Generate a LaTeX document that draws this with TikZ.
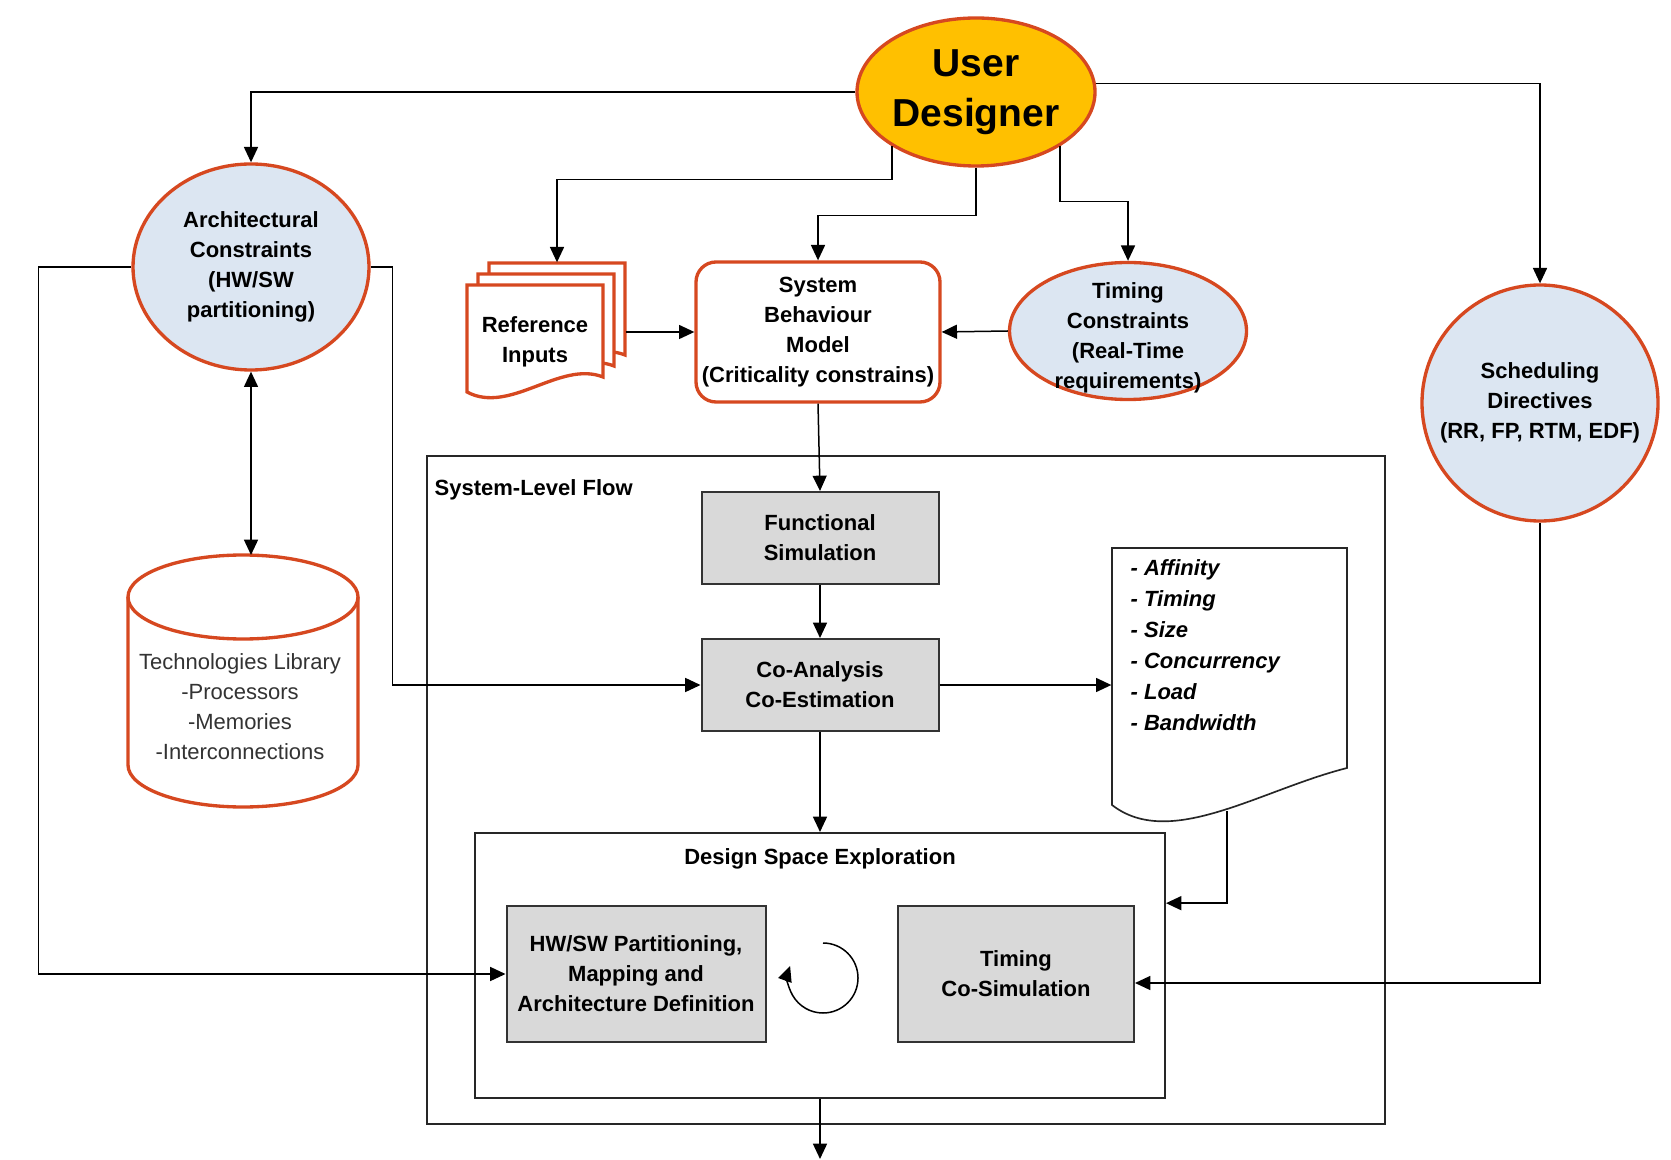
\documentclass[tikz,border=0pt]{standalone}
\usepackage{fontspec}
\setmainfont{Liberation Sans}
\usetikzlibrary{arrows.meta,shapes.geometric}

\definecolor{udorange}{RGB}{255,192,0}
\definecolor{edgered}{RGB}{214,72,32}
\definecolor{paleblue}{RGB}{220,230,242}
\definecolor{boxgray}{RGB}{217,217,217}

\newcommand{\dfont}{\fontsize{6.6}{9}\selectfont}

\begin{document}
\begin{tikzpicture}[x=0.3pt, y=-0.3pt,
        font=\dfont\bfseries,
        arr/.style={line width=0.45pt, -{Triangle[length=4.6pt,width=4.2pt]}},
        dblarr/.style={line width=0.45pt, {Triangle[length=4.6pt,width=4.2pt]}-{Triangle[length=4.6pt,width=4.2pt]}},
        redell/.style={ellipse, draw=edgered, line width=1pt, fill=paleblue, inner sep=0pt, align=center},
        graybox/.style={rectangle, draw=black!80, line width=0.6pt, fill=boxgray, inner sep=1pt, align=center},
        frame/.style={rectangle, draw=black!85, line width=0.6pt, inner sep=0pt},
        txt/.style={inner sep=0pt, align=center}]
    \useasboundingbox (0,0) rectangle (1671,1160);

    % top row
    \node[redell, fill=udorange, minimum width=71.4pt, minimum height=44.4pt,
        font=\fontsize{11.7}{15}\selectfont\bfseries] (UD) at (976,92) {User\\Designer};
    \node[redell, minimum width=70.8pt, minimum height=61.8pt] (arch) at (251,267)
        {Architectural\\Constraints\\(HW/SW\\partitioning)};
    \node[redell, minimum width=71.1pt, minimum height=41.1pt] (timing) at (1128,331) {};
    \node[txt] (timingtxt) at (1128,338) {Timing\\Constraints\\(Real-Time\\requirements)};
    \node[circle, draw=edgered, line width=1pt, fill=paleblue, minimum size=70.8pt,
        inner sep=0pt, align=center] (sched) at (1540,403) {Scheduling\\Directives\\(RR, FP, RTM, EDF)};
    \node[rectangle, rounded corners=6pt, draw=edgered, line width=1pt, fill=white,
        minimum width=73.2pt, minimum height=42pt, inner sep=0pt, align=center] (SBM) at (818,332)
        {System\\Behaviour\\Model\\(Criticality constrains)};

    % reference inputs (stacked documents)
    \foreach \d in {22,11,0} {
        \draw[edgered, line width=1pt, fill=white, shift={(\d,-\d)}]
            (467,285) -- (603,285) -- (603,377)
            .. controls (560,360) and (510,415) .. (467,392) -- cycle;
    }
    \node[minimum width=40.8pt, minimum height=27.6pt, inner sep=0pt] (refin) at (557,309) {};
    \node[txt] (refintxt) at (535,342) {Reference\\Inputs};

    % technologies library
    \draw[edgered, line width=1pt, fill=white] (128,597) -- (128,765)
        arc[start angle=180, end angle=360, x radius=34.5pt, y radius=12.6pt] -- (358,597);
    \draw[edgered, line width=1pt] (243,597) ellipse[x radius=34.5pt, y radius=12.6pt];
    \coordinate (cyltop) at (251,555);
    \node[txt, font=\dfont, text=black!80] (techlib) at (240,707)
        {Technologies Library\\-Processors\\-Memories\\-Interconnections};

    % system-level flow
    \node[frame, minimum width=287.4pt, minimum height=200.4pt] (slf) at (906,790) {};
    \node[txt, anchor=west] (slflabel) at (434,490) {System-Level Flow};
    \node[graybox, minimum width=71.1pt, minimum height=27.6pt] (FS) at (820,538) {Functional\\Simulation};
    \node[graybox, minimum width=71.1pt, minimum height=27.6pt] (CoA) at (820,685) {Co-Analysis\\Co-Estimation};

    % parameters document
    \draw[black!85, line width=0.5pt, fill=white] (1112,548) -- (1347,548) -- (1347,768)
        .. controls (1260,790) and (1170,850) .. (1112,805) -- cycle;
    \node[minimum width=70.5pt, minimum height=77.1pt, inner sep=0pt] (params) at (1229.5,676.5) {};
    \node[txt, anchor=west, align=left, font=\fontsize{6.6}{9.3}\selectfont\bfseries\itshape] (paramtxt) at (1130,645)
        {- Affinity\\- Timing\\- Size\\- Concurrency\\- Load\\- Bandwidth};
    \coordinate (pfoot) at (1227,811);

    % design space exploration
    \node[frame, minimum width=207pt, minimum height=79.5pt] (DSE) at (820,965.5) {};
    \node[txt] (dselabel) at (820,859) {Design Space Exploration};
    \node[graybox, minimum width=77.7pt, minimum height=40.8pt] (HW) at (636,974)
        {HW/SW Partitioning,\\Mapping and\\Architecture Definition};
    \node[graybox, minimum width=70.8pt, minimum height=40.8pt] (TCS) at (1016,974) {Timing\\Co-Simulation};
    \coordinate (loopc) at (823,978);
    \coordinate (out) at (820,1159);

    % connectors
    \draw[arr] (UD.west) -| (arch.north);
    \draw[arr] (UD.213) -- ++(0,33) -| (refin.north);
    \draw[arr] (UD.south) -- ++(0,48) -| (SBM.north);
    \draw[arr] (UD.327) -- ++(0,55) -| (timing.north);
    \draw[arr] (UD.4) -| (sched.north);
    \draw[arr] (SBM.west -| refin.east) -- (SBM.west);
    \draw[arr] (timing.west) -- (SBM.east);
    \draw[dblarr] (arch.south) -- (arch.south |- cyltop);
    \draw[arr] (arch.west) -- ++(-93,0) |- (HW.west);
    \draw[arr] (arch.east) -- ++(22,0) |- (CoA.west);
    \draw[arr] (SBM.south) -- (FS.north);
    \draw[arr] (FS.south) -- (CoA.north);
    \draw[arr] (CoA.south) -- (DSE.north);
    \draw[arr] (CoA.east) -- (CoA.east -| params.west);
    \draw[arr] (pfoot) |- ([yshift=18.7pt]DSE.east);
    \draw[arr] (sched.south) |- ([yshift=-2.7pt]TCS.east);
    \draw[arr] (DSE.south) -- (out);
    \draw[arr] ([yshift=10.5pt]loopc) arc[start angle=90, end angle=-200, radius=10.5pt];
\end{tikzpicture}
\end{document}
